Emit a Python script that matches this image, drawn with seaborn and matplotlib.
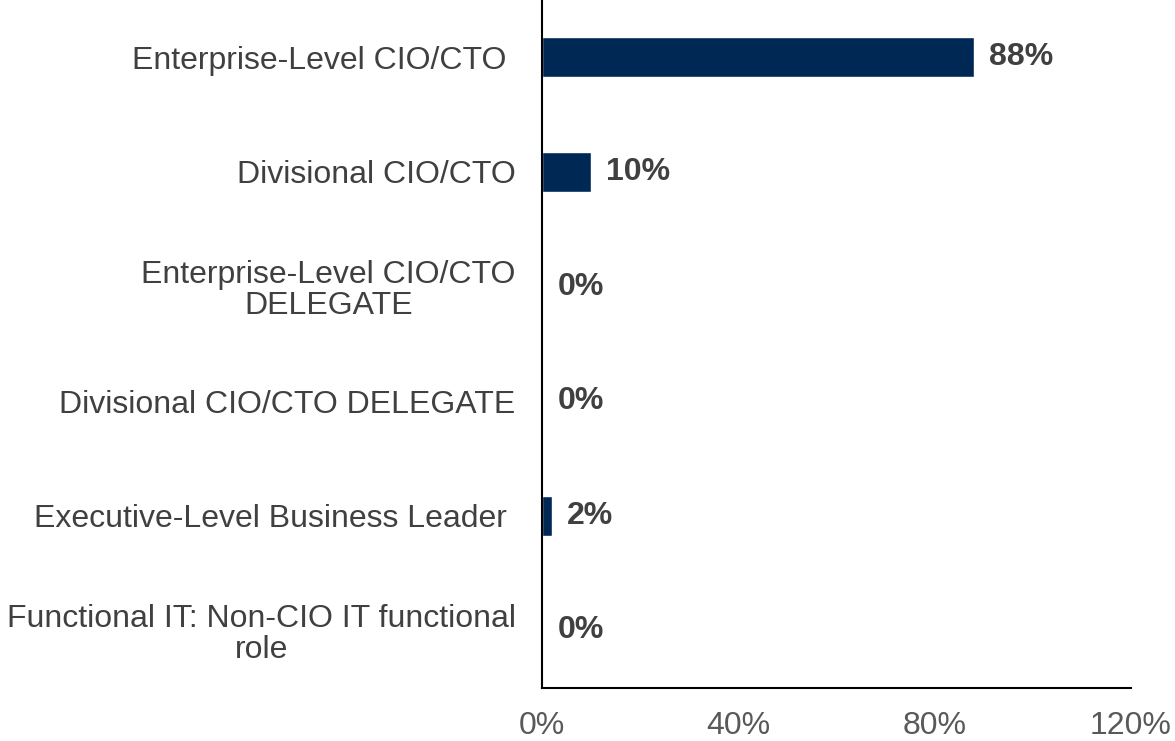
import pandas as pd
import seaborn as sns
import matplotlib.pyplot as plt
from matplotlib.ticker import FuncFormatter

# data
roles = ["Enterprise-Level CIO/CTO ",
         "Divisional CIO/CTO",
         "Enterprise-Level CIO/CTO\nDELEGATE",
         "Divisional CIO/CTO DELEGATE",
         "Executive-Level Business Leader ",
         "Functional IT: Non-CIO IT functional\nrole"]
shares = [88, 10, 0, 0, 2, 0]
x_ticks = [0, 40, 80, 120]

df = pd.DataFrame({"role": roles, "share": shares})

sns.set_style("white")
plt.rcParams['font.family'] = ['Liberation Sans', 'DejaVu Sans']

fig = plt.figure(figsize=(11.75, 7.41), dpi=100)
ax = fig.add_axes([0.4613, 0.072, 0.5013, 0.928])

sns.barplot(data=df, x="share", y="role", orient="h", color="#002855",
            saturation=1, width=0.35, ax=ax)

# value labels next to bars
ax.bar_label(ax.containers[0], labels=[f"{v}%" for v in shares], padding=11,
             fontsize=23, fontweight='bold', color='#404040')

ax.set_xlim(0, 120)
ax.set_ylim(5.5, -0.5)
ax.set_xticks(x_ticks)
ax.xaxis.set_major_formatter(FuncFormatter(lambda v, p: f"{v:.0f}%"))
ax.set_xlabel("")
ax.set_ylabel("")
ax.tick_params(axis='x', length=0, pad=17, labelsize=23, labelcolor='#595959')
ax.tick_params(axis='y', length=0, pad=19, labelsize=23, labelcolor='#404040')
for lbl in ax.get_yticklabels():
    lbl.set_multialignment('center')
    lbl.set_linespacing(1.05)

for side in ['top', 'right']:
    ax.spines[side].set_visible(False)
for side in ['left', 'bottom']:
    ax.spines[side].set_color('black')
    ax.spines[side].set_linewidth(1.5)

fig.savefig("out.png", dpi=100)
